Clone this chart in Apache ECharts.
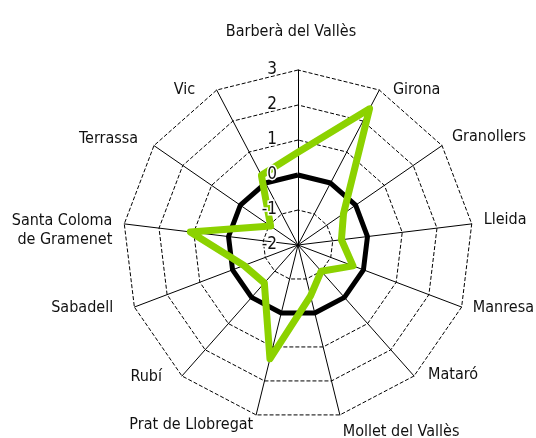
<!DOCTYPE html>
<html>
<head>
<meta charset="utf-8">
<script src="https://cdn.jsdelivr.net/npm/echarts@6/dist/echarts.min.js"></script>
<style>
  html, body { margin: 0; padding: 0; background: #fff; }
  #chart { width: 536px; height: 438px; }
</style>
</head>
<body>
<div id="chart"></div>
<script>
// radar indicators run counterclockwise in echarts, so this list starts at
// the top and goes round to the left
var cities = ['Barberà del Vallès', 'Vic', 'Terrassa', 'Santa Coloma\nde Gramenet', 'Sabadell', 'Rubí',
  'Prat de Llobregat', 'Mollet del Vallès', 'Mataró', 'Manresa', 'Lleida', 'Granollers', 'Girona']
var scores = [0.65, 0.25, -1.05, 1.1, -0.35, -0.55, 1.35, -0.5, -1.0, -0.32, -0.75, -0.42, 2.4]
var baseline = [0, 0, 0, 0, 0, 0, 0, 0, 0, 0, 0, 0, 0]
var axisMin = -2
var axisMax = 3

// extra padding [top, right, bottom, left] round each city name, same order as cities
var namePads = [
  [0, 14, 18, 0], [20, 16, 0, 0], [0, 6, 0, 0], [16, 0, 0, 0], [0, 10, 6, 0], [0, 12, 16, 0],
  [0, 0, 4, 4], [10, 0, 0, 0], [0, 0, 20, 6], [0, 0, 6, 0], [0, 0, 6, 0], [0, 0, 4, 0], [20, 0, 0, 8]
]

var font = '"DejaVu Sans Condensed", sans-serif'
var chart = echarts.init(document.getElementById('chart'))

var rich = {}
namePads.forEach(function (p, i) {
  rich['n' + i] = { padding: p, fontSize: 16, fontFamily: font, color: '#111' }
})
rich.gap = { padding: [3, 0, 0, 0], fontSize: 16, fontFamily: font, color: '#111' }

chart.setOption({
  animation: false,
  radar: {
    center: [298, 245],
    radius: 175,
    startAngle: 90,
    shape: 'polygon',
    splitNumber: 5,
    nameGap: 12,
    indicator: cities.map(function (name) {
      return { name: name, min: axisMin, max: axisMax }
    }),
    axisName: {
      color: '#111',
      fontSize: 16,
      fontFamily: font,
      rich: rich,
      formatter: function (name) {
        var i = cities.indexOf(name)
        return name.split('\n').map(function (line, k) {
          return '{' + (k === 0 ? 'n' + i : 'gap') + '|' + line + '}'
        }).join('\n')
      }
    },
    axisLine: { lineStyle: { color: '#000', width: 1 } },
    splitLine: { lineStyle: { color: '#000', width: 1, type: [4, 2] } },
    splitArea: { show: false }
  },
  // polar only used to put the value labels up the top axis, over the lines
  polar: { center: [298, 245], radius: 175 },
  angleAxis: { type: 'value', min: 0, max: 360, startAngle: 90, show: false },
  radiusAxis: {
    type: 'value',
    min: axisMin,
    max: axisMax,
    interval: 1,
    z: 10,
    axisLine: { show: false },
    axisTick: { show: false },
    splitLine: { show: false },
    axisLabel: {
      margin: 21,
      align: 'right',
      verticalAlign: 'middle',
      fontSize: 17,
      color: '#111',
      fontFamily: font,
      textBorderColor: '#fff',
      textBorderWidth: 3
    }
  },
  series: [
    {
      type: 'radar',
      symbol: 'none',
      lineStyle: { color: '#000', width: 5 },
      data: [{ value: baseline }]
    },
    {
      type: 'radar',
      symbol: 'none',
      lineStyle: { color: '#8cd200', width: 7 },
      data: [{ value: scores }]
    }
  ]
})
</script>
</body>
</html>
